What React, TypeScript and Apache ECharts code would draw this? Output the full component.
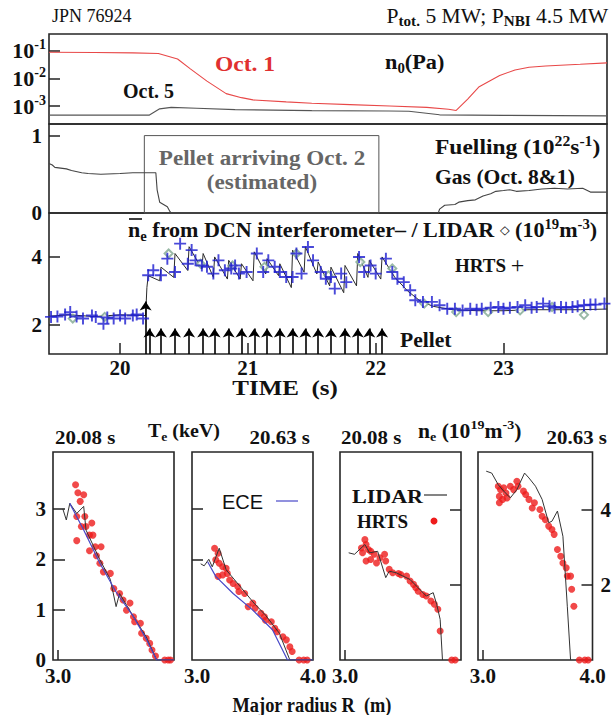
import React, { useEffect, useRef } from 'react';
import * as echarts from 'echarts';

const SERIF = '"Liberation Serif", "Times New Roman", serif';
const SANS = '"Liberation Sans", Arial, sans-serif';

// ---------- Panel 1: neutral pressure n0 (Pa) ----------
const oct1Time = [19.444, 19.8, 20.1, 20.3, 20.45, 20.55, 20.68, 20.83, 20.95, 21.04, 21.3, 21.5, 21.8, 22.11, 22.4, 22.57, 22.63, 22.72, 22.81, 22.97, 23.09, 23.2, 23.33, 23.6, 23.81];
const oct1Pa = [0.087, 0.085, 0.083, 0.079, 0.05, 0.022, 0.0079, 0.0028, 0.002, 0.00166, 0.00141, 0.00126, 0.00112, 0.001, 0.00089, 0.00076, 0.00069, 0.00178, 0.005, 0.0126, 0.02, 0.025, 0.028, 0.032, 0.036];
const oct5Time = [19.444, 20.0, 20.23, 20.31, 20.4, 20.6, 20.9, 21.5, 22.1, 22.26, 22.5, 23.0, 23.81];
const oct5Pa = [0.00047, 0.00047, 0.00047, 0.00079, 0.00089, 0.00083, 0.00074, 0.00068, 0.00066, 0.00065, 0.00048, 0.00046, 0.00044];
const n0Ticks = [-3, -2, -1];

// ---------- Panel 2: fuelling ----------
const gasTime = [19.444, 19.47, 19.49, 19.58, 19.62, 19.7, 19.75, 19.85, 20.0, 20.1, 20.2, 20.28, 20.29, 20.31, 20.33, 20.37, 20.39, 20.4, 22.49, 22.5, 22.54, 22.62, 22.65, 22.72, 22.78, 22.84, 22.9, 22.94, 23.0, 23.05, 23.1, 23.2, 23.3, 23.4, 23.5, 23.62, 23.68, 23.81];
const gasRate = [0.64, 0.62, 0.59, 0.57, 0.55, 0.52, 0.51, 0.5, 0.51, 0.52, 0.52, 0.52, 0.3, 0.14, 0.12, 0.08, 0.02, 0, 0, 0.05, 0.1, 0.11, 0.14, 0.16, 0.17, 0.22, 0.25, 0.28, 0.29, 0.3, 0.28, 0.29, 0.31, 0.32, 0.31, 0.32, 0.27, 0.27];
const pelletWindow = [20.19, 22.025];
const pelletWindowTop = 1.0;
const fuelTicks = [0, 1];

// ---------- Panel 3: line density ----------
const dcnTime = [19.444, 19.6, 19.8, 20.0, 20.2, 20.21, 20.22, 20.31, 20.32, 20.42, 20.43, 20.53, 20.54, 20.64, 20.65, 20.73, 20.74, 20.84, 20.85, 20.94, 20.95, 21.04, 21.05, 21.14, 21.15, 21.24, 21.25, 21.34, 21.35, 21.44, 21.45, 21.54, 21.55, 21.64, 21.65, 21.75, 21.76, 21.85, 21.86, 21.94, 21.95, 22.04, 22.05, 22.15, 22.25, 22.35, 22.45, 22.6, 22.8, 23.0, 23.2, 23.4, 23.6, 23.81];
const dcnDensity = [2.26, 2.3, 2.25, 2.3, 2.28, 3.1, 3.45, 3.3, 3.7, 3.4, 4.1, 3.6, 4.3, 3.65, 4.1, 3.4, 4.0, 3.35, 3.9, 3.35, 3.8, 3.3, 4.15, 3.5, 3.95, 3.45, 3.8, 3.1, 4.2, 3.55, 4.3, 3.5, 3.85, 3.15, 3.7, 2.95, 3.75, 3.15, 4.1, 3.4, 3.9, 3.35, 4.0, 3.4, 3.0, 2.7, 2.55, 2.45, 2.42, 2.42, 2.45, 2.45, 2.45, 2.47];
const hrtsTime = [19.46, 19.51, 19.57, 19.61, 19.66, 19.71, 19.78, 19.81, 19.87, 19.9, 19.95, 20.0, 20.04, 20.1, 20.13, 20.18,
  20.22, 20.26, 20.32, 20.37, 20.43, 20.47, 20.53, 20.56, 20.59, 20.64, 20.68, 20.73, 20.77, 20.82, 20.87, 20.9, 20.93, 20.99, 21.07, 21.12, 21.16, 21.21, 21.25, 21.3, 21.35, 21.38, 21.42, 21.47, 21.51, 21.57, 21.61, 21.65, 21.68, 21.73, 21.77, 21.87, 21.91, 21.96, 22.0, 22.08, 22.13, 22.17, 22.22, 22.27, 22.31, 22.37, 22.44, 22.5, 22.56, 22.62, 22.68, 22.74, 22.79, 22.83, 22.9, 22.96, 23.0, 23.05, 23.11, 23.17, 23.22, 23.26, 23.31, 23.36, 23.4, 23.45, 23.49, 23.54, 23.58, 23.63, 23.68, 23.72, 23.79];
const hrtsDensity = [2.24, 2.25, 2.31, 2.38, 2.25, 2.19, 2.28, 2.24, 2.04, 2.22, 2.19, 2.28, 2.19, 2.28, 2.31, 2.19,
  3.46, 3.61, 3.46, 3.95, 3.56, 4.39, 3.8, 4.2, 3.9, 3.75, 3.71, 3.51, 3.9, 3.61, 3.66, 3.75, 3.51, 3.56, 4.1, 3.56, 3.9, 3.71, 3.56, 3.41, 3.41, 4.1, 3.51, 4.29, 3.9, 3.56, 3.36, 3.41, 3.07, 3.51, 3.26, 4.0, 3.56, 3.75, 3.51, 3.95, 3.56, 3.36, 3.26, 3.02, 2.73, 2.68, 2.68, 2.58, 2.48, 2.48, 2.43, 2.48, 2.45, 2.48, 2.51, 2.53, 2.48, 2.51, 2.53, 2.58, 2.51, 2.53, 2.63, 2.55, 2.51, 2.53, 2.51, 2.53, 2.55, 2.58, 2.6, 2.6, 2.63];
const lidarTime = [19.63, 19.88, 20.38, 20.63, 20.88, 21.13, 21.38, 21.63, 21.88, 22.13, 22.38, 22.63, 22.88, 23.13, 23.38, 23.63];
const lidarDensity = [2.19, 2.24, 4.1, 3.8, 3.75, 3.71, 4.1, 3.46, 3.85, 3.66, 2.63, 2.38, 2.38, 2.43, 2.53, 2.3];
const pelletTimes = [20.23, 20.32, 20.43, 20.54, 20.65, 20.74, 20.85, 20.95, 21.05, 21.15, 21.25, 21.35, 21.45, 21.55, 21.65, 21.76, 21.86, 21.95, 22.05];
const firstPelletTime = 20.2;
const pelletArrowTip = 1.9;
const firstPelletArrowTip = 2.69;
const timeTicks = [20, 21, 22, 23];
const densityTicks = [2, 4];

// ---------- Profiles ----------
const eceA_R = [3.10, 3.22, 3.36, 3.50, 3.65, 3.76, 3.85, 4.00];
const eceA_Te = [3.11, 2.58, 1.92, 1.35, 0.86, 0.42, 0, 0];
const lidarA_R = [3.04, 3.07, 3.10, 3.16, 3.22, 3.24, 3.36, 3.45, 3.50, 3.53, 3.65, 3.76, 3.85, 4.00];
const lidarA_Te = [3.0, 2.78, 3.11, 2.91, 3.05, 2.58, 1.99, 1.6, 1.06, 1.32, 0.86, 0.46, 0, 0];
const hrtsA_R = [3.15, 3.17, 3.22, 3.19, 3.16, 3.23, 3.20, 3.24, 3.29, 3.27, 3.30, 3.16, 3.32, 3.37, 3.27, 3.33, 3.36, 3.39, 3.45, 3.48, 3.53, 3.56, 3.62, 3.59, 3.65, 3.66, 3.71, 3.72, 3.76, 3.79, 3.81, 3.84, 3.92, 3.95, 3.97];
const hrtsA_Te = [3.48, 3.32, 3.28, 3.15, 2.85, 2.85, 2.65, 2.65, 2.72, 2.48, 2.48, 2.37, 2.25, 2.25, 2.17, 2.07, 1.92, 1.75, 1.72, 1.42, 1.32, 1.19, 1.13, 0.99, 0.86, 0.76, 0.73, 0.53, 0.43, 0.33, 0.2, 0.08, 0, 0, 0];

const eceB_R = [3.09, 3.16, 3.31, 3.48, 3.65, 3.78, 4.00];
const eceB_Te = [1.95, 1.66, 1.32, 0.99, 0.6, 0, 0];
const lidarB_R = [3.03, 3.06, 3.10, 3.13, 3.19, 3.25, 3.36, 3.49, 3.59, 3.71, 3.80, 4.00];
const lidarB_Te = [1.91, 1.87, 2.0, 1.85, 2.22, 1.79, 1.49, 1.13, 0.89, 0.53, 0, 0];
const hrtsB_R = [3.15, 3.18, 3.16, 3.19, 3.22, 3.25, 3.18, 3.22, 3.26, 3.28, 3.31, 3.35, 3.36, 3.41, 3.44, 3.48, 3.50, 3.55, 3.58, 3.59, 3.64, 3.67, 3.69, 3.74, 3.77, 3.80, 3.82, 3.88, 3.92, 3.95];
const hrtsB_Te = [2.22, 2.12, 1.99, 1.92, 1.85, 1.82, 1.66, 1.69, 1.72, 1.59, 1.52, 1.46, 1.36, 1.32, 1.06, 1.13, 1.03, 0.93, 0.86, 0.79, 0.76, 0.63, 0.56, 0.46, 0.4, 0.26, 0.17, 0, 0, 0];

const lidarC_R = [3.03, 3.08, 3.17, 3.21, 3.28, 3.35, 3.38, 3.44, 3.56, 3.70, 3.76, 3.79, 3.82, 3.84];
const lidarC_ne = [2.85, 2.81, 3.07, 2.85, 2.89, 2.19, 2.36, 2.32, 2.14, 1.70, 1.79, 1.48, 1.08, 0];
const hrtsC_R = [3.17, 3.18, 3.14, 3.20, 3.15, 3.22, 3.25, 3.18, 3.22, 3.30, 3.34, 3.27, 3.35, 3.38, 3.41, 3.46, 3.48, 3.53, 3.56, 3.59, 3.61, 3.63, 3.67, 3.70, 3.74, 3.77, 3.80, 3.82, 3.92, 3.95];
const hrtsC_ne = [3.2, 3.07, 2.98, 2.94, 2.85, 2.89, 2.81, 2.63, 2.67, 2.72, 2.81, 2.58, 2.63, 2.41, 2.32, 2.30, 2.27, 2.23, 2.10, 2.01, 1.92, 1.83, 1.74, 1.70, 1.57, 1.48, 1.35, 0.77, 0, 0];

const lidarD_R = [3.03, 3.08, 3.14, 3.19, 3.25, 3.31, 3.38, 3.42, 3.48, 3.54, 3.60, 3.63, 3.68, 3.73, 3.77, 3.80];
const lidarD_ne = [5.02, 4.97, 4.66, 4.49, 4.31, 4.53, 4.97, 4.84, 4.62, 4.27, 3.65, 3.69, 3.96, 3.29, 1.43, 0];
const hrtsD_R = [3.14, 3.16, 3.15, 3.19, 3.21, 3.25, 3.28, 3.31, 3.32, 3.15, 3.18, 3.22, 3.37, 3.39, 3.42, 3.47, 3.45, 3.52, 3.54, 3.57, 3.60, 3.63, 3.65, 3.68, 3.71, 3.73, 3.76, 3.77, 3.80, 3.81, 3.83, 3.88, 3.93, 3.96];
const hrtsD_ne = [4.62, 4.53, 4.35, 4.58, 4.44, 4.62, 4.53, 4.75, 4.62, 4.18, 4.27, 4.31, 4.49, 4.40, 4.27, 4.18, 4.04, 4.0, 3.82, 3.73, 3.56, 3.47, 3.34, 2.94, 2.76, 2.58, 2.45, 2.23, 2.23, 1.88, 1.43, 0, 0, 0];

const teTicks = [1, 2, 3];
const teLabels = [0, 1, 2, 3];
const neTicks = [2, 4];

const zip = (a: number[], b: number[]) => a.map((v, i) => [v, b[i]]);

const RED = '#ee1c1c';
const BLUE = '#1c1cd0';
const ECE_BLUE = '#4848c8';

const boldLabel = { fontFamily: SERIF, fontWeight: 'bold' as const, fontSize: 21, color: '#111' };

function App() {
  const ref = useRef<HTMLDivElement>(null);
  useEffect(() => {
    if (!ref.current) return;
    const chart = echarts.init(ref.current, undefined, { renderer: 'svg' });
    const border = { show: true, borderColor: '#262626', borderWidth: 1.6, backgroundColor: 'transparent' };
    const grids = [
      { left: 49, top: 34, width: 558, height: 90, ...border },
      { left: 49, top: 124, width: 558, height: 89, ...border },
      { left: 49, top: 213, width: 558, height: 141, ...border },
      { left: 53, top: 452, width: 121, height: 208, ...border },
      { left: 192, top: 452, width: 121, height: 208, ...border },
      { left: 340, top: 452, width: 121, height: 208, ...border },
      { left: 478, top: 452, width: 121, height: 208, ...border },
    ];
    const tMin = 19.444, tMax = 23.81;
    const timeAxis = (gi: number, show: boolean) => ({
      type: 'value', gridIndex: gi, min: tMin, max: tMax, show,
      axisLine: { show: false }, splitLine: { show: false },
      axisTick: { show, inside: true, length: 11, customValues: timeTicks, lineStyle: { color: '#222', width: 1.5 } },
      axisLabel: { show, customValues: timeTicks, margin: 3, ...boldLabel },
    });
    const rAxis = (gi: number, labels: number[], ticks: number[]) => ({
      type: 'value', gridIndex: gi, min: 2.955, max: 4.0,
      axisLine: { show: false }, splitLine: { show: false },
      axisTick: { show: ticks.length > 0, inside: true, length: 10, customValues: ticks, lineStyle: { color: '#222', width: 1.5 } },
      axisLabel: { show: labels.length > 0, customValues: labels, margin: 5, formatter: (v: number) => v.toFixed(1), ...boldLabel },
    });
    const yAx = (gi: number, min: number, max: number, ticks: number[], labels: number[], opts: any = {}) => ({
      type: 'value', gridIndex: gi, min, max, position: opts.position || 'left',
      axisLine: { show: false }, splitLine: { show: false },
      axisTick: { show: ticks.length > 0, inside: true, length: opts.tickLen || 11, customValues: ticks, lineStyle: { color: '#222', width: 1.5 } },
      axisLabel: { show: labels.length > 0, customValues: labels, margin: opts.margin ?? 7, formatter: opts.formatter, rich: opts.rich, ...boldLabel },
    });

    const lineS = (xi: number, data: number[][], color: string, width = 1, z = 3, extra: any = {}) => ({
      type: 'line', xAxisIndex: xi, yAxisIndex: xi, data, showSymbol: false, symbol: 'none',
      lineStyle: { color, width }, z, silent: true, ...extra,
    });
    const dotS = (xi: number, data: number[][]) => ({
      type: 'scatter', xAxisIndex: xi, yAxisIndex: xi, data, symbol: 'circle', symbolSize: 7,
      itemStyle: { color: RED }, z: 2, silent: true,
    });

    const yMin3 = 1.15;
    const arrowLines = [
      [{ coord: [firstPelletTime, yMin3] }, { coord: [firstPelletTime, firstPelletArrowTip] }],
      ...pelletTimes.map(t => [{ coord: [t, yMin3] }, { coord: [t, pelletArrowTip] }]),
    ];

    const sup = (fs = 13) => ({ fontFamily: SERIF, fontWeight: 'bold' as const, fontSize: fs, verticalAlign: 'top', lineHeight: fs });
    const sub = (fs = 13) => ({ fontFamily: SERIF, fontWeight: 'bold' as const, fontSize: fs, verticalAlign: 'bottom', lineHeight: fs });

    const txt = (x: number, y: number, text: string, opts: any = {}) => ({
      type: 'text', x, y, silent: true, scaleX: opts.sx || 1,
      style: {
        text, align: opts.align || 'left', verticalAlign: 'middle',
        font: `${opts.weight || 'bold'} ${opts.size || 21}px ${opts.family || SERIF}`,
        fill: opts.color || '#111',
        lineHeight: (opts.size || 21) + 5,
        rich: opts.rich,
      },
    });

    const option: any = {
      animation: false,
      grid: grids,
      xAxis: [
        timeAxis(0, false), timeAxis(1, false), timeAxis(2, true),
        rAxis(3, [3.0], [3.0]), rAxis(4, [3.0, 4.0], []), rAxis(5, [3.0], [3.0]), rAxis(6, [3.0, 4.0], [3.0]),
      ],
      yAxis: [
        yAx(0, -3.65, -0.40, n0Ticks, n0Ticks, {
          margin: 3,
          formatter: (v: number) => `{b|10}{s|${v}}`,
          rich: { b: { fontFamily: SERIF, fontWeight: 'bold', fontSize: 22, lineHeight: 26, color: '#111' }, s: { ...sup(14), color: '#111' } },
        }),
        yAx(1, 0, 1.15, [1], fuelTicks),
        yAx(2, yMin3, 5.29, densityTicks, densityTicks),
        yAx(3, 0, 4.13, teTicks, teLabels, { tickLen: 12 }),
        yAx(4, 0, 4.13, teTicks, [], { tickLen: 11 }),
        yAx(5, 0, 5.53, neTicks, [], { position: 'right', tickLen: 11 }),
        yAx(6, 0, 5.53, neTicks, neTicks, { position: 'right', tickLen: 11, margin: 8 }),
      ],
      series: [
        lineS(0, zip(oct1Time, oct1Pa.map(Math.log10)), '#e84848', 1.1),
        lineS(0, zip(oct5Time, oct5Pa.map(Math.log10)), '#555', 1.1),
        lineS(1, zip(gasTime, gasRate), '#444', 1.1, 3, {
          markArea: {
            silent: true, label: { show: false },
            itemStyle: { color: 'rgba(0,0,0,0)', borderColor: '#555', borderWidth: 1 },
            data: [[{ coord: [pelletWindow[0], 0] }, { coord: [pelletWindow[1], pelletWindowTop] }]],
          },
        }),
        lineS(2, zip(dcnTime, dcnDensity), '#2a2a2a', 1, 3, {
          markLine: {
            silent: true, symbol: ['none', 'arrow'], symbolSize: 9, label: { show: false },
            lineStyle: { color: '#000', width: 1.6, type: 'solid' },
            emphasis: { disabled: true },
            data: arrowLines,
          },
        }),
        {
          type: 'scatter', xAxisIndex: 2, yAxisIndex: 2, data: zip(lidarTime, lidarDensity),
          symbol: 'emptyDiamond', symbolSize: 8, itemStyle: { color: '#7fa890', borderWidth: 1 }, z: 4, silent: true,
        },
        {
          type: 'scatter', xAxisIndex: 2, yAxisIndex: 2, data: zip(hrtsTime, hrtsDensity),
          symbol: 'path://M4.2,0h1.6v4.2h4.2v1.6h-4.2v4.2h-1.6v-4.2h-4.2v-1.6h4.2z', symbolSize: 12,
          itemStyle: { color: BLUE }, z: 5, silent: true,
        },
        dotS(3, zip(hrtsA_R, hrtsA_Te)),
        lineS(3, zip(lidarA_R, lidarA_Te), '#333', 1),
        lineS(3, zip(eceA_R, eceA_Te), ECE_BLUE, 1.2),
        dotS(4, zip(hrtsB_R, hrtsB_Te)),
        lineS(4, zip(lidarB_R, lidarB_Te), '#333', 1),
        lineS(4, zip(eceB_R, eceB_Te), ECE_BLUE, 1.2),
        dotS(5, zip(hrtsC_R, hrtsC_ne)),
        lineS(5, zip(lidarC_R, lidarC_ne), '#333', 1),
        dotS(6, zip(hrtsD_R, hrtsD_ne)),
        lineS(6, zip(lidarD_R, lidarD_ne), '#333', 1),
      ],
      graphic: [
        txt(52, 16, 'JPN 76924', { weight: 'normal', size: 18 }),
        txt(608, 16, 'P{s|tot.} 5 MW; P{s|NBI} 4.5 MW', {
          align: 'right', weight: 'normal', size: 20, sx: 1.08,
          rich: { s: { ...sub(14) } },
        }),
        txt(215, 64, 'Oct. 1', { color: '#e03030', size: 21, sx: 1.12 }),
        txt(385, 62, 'n{s|0}(Pa)', { size: 21, sx: 1.06, rich: { s: { ...sub(14) } } }),
        txt(123, 91, 'Oct. 5', { size: 20 }),
        txt(262, 158, 'Pellet arriving Oct. 2', { align: 'center', color: '#666', sx: 1.1 }),
        txt(262, 182, '(estimated)', { align: 'center', color: '#666', sx: 1.1 }),
        txt(435, 147, 'Fuelling (10{p|22}s{p|-1})', { sx: 1.12, rich: { p: { ...sup(14) } } }),
        txt(435, 177, 'Gas (Oct. 8&1)', { sx: 1.03 }),
        txt(128, 230, 'n{s|e} from DCN interferometer– / LIDAR {d|◇} (10{p|19}m{p|-3})', {
          sx: 1.05,
          rich: { s: { ...sub(14) }, p: { ...sup(14) }, d: { fontSize: 12, color: '#7fa890', fontFamily: '"DejaVu Sans", sans-serif' } },
        }),
        { type: 'line', silent: true, shape: { x1: 129, y1: 219, x2: 142, y2: 219 }, style: { stroke: '#111', lineWidth: 1.6 } },
        txt(455, 265, 'HRTS {b|+}', { size: 19, rich: { b: { fontSize: 24, color: BLUE, fontFamily: SERIF } } }),
        txt(400, 340, 'Pellet', { size: 20, sx: 1.08 }),
        txt(285, 388, 'TIME  (s)', { align: 'center', size: 20, sx: 1.25 }),
        txt(55, 437, '20.08 s', { size: 19, sx: 1.1 }),
        txt(148, 431, 'T{s|e} (keV)', { size: 19, sx: 1.05, rich: { s: { ...sub(13) } } }),
        txt(310, 437, '20.63 s', { align: 'right', size: 19, sx: 1.1 }),
        txt(341, 437, '20.08 s', { size: 19, sx: 1.1 }),
        txt(418, 431, 'n{s|e} (10{p|19}m{p|-3})', { size: 20, sx: 1.08, rich: { s: { ...sub(13) }, p: { ...sup(13) } } }),
        txt(607, 437, '20.63 s', { align: 'right', size: 19, sx: 1.1 }),
        txt(222, 502, 'ECE', { weight: 'normal', size: 20, family: SANS }),
        { type: 'line', silent: true, shape: { x1: 276, y1: 501, x2: 298, y2: 501 }, style: { stroke: ECE_BLUE, lineWidth: 1.2 } },
        txt(352, 497, 'LIDAR', { size: 19, sx: 1.16 }),
        { type: 'line', silent: true, shape: { x1: 424, y1: 495, x2: 447, y2: 495 }, style: { stroke: '#333', lineWidth: 1.2 } },
        txt(357, 521, 'HRTS', { size: 19 }),
        { type: 'circle', silent: true, shape: { cx: 434, cy: 521, r: 3.5 }, style: { fill: RED } },
        txt(312, 705, 'Major radius R  (m)', { align: 'center', size: 20, sx: 0.92 }),
      ],
    };
    chart.setOption(option);
    return () => chart.dispose();
  }, []);
  return <div ref={ref} style={{ position: 'absolute', left: 0, top: 0, width: 614, height: 715, background: '#fff' }} />;
}

export default App;
